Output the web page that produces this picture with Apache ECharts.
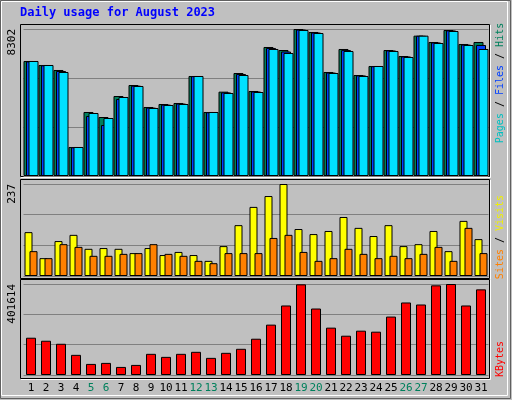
<!DOCTYPE html>
<html><head><meta charset="utf-8">
<script src="https://cdn.jsdelivr.net/npm/echarts@6/dist/echarts.min.js"></script>
<style>html,body{margin:0;padding:0;background:#c0c0c0}#c{width:512px;height:400px}</style>
</head><body><div id="c"></div>
<script>
const days = ['1','2','3','4','5','6','7','8','9','10','11','12','13','14','15','16','17','18','19','20','21','22','23','24','25','26','27','28','29','30','31'];
const weekend = ['5','6','12','13','19','20','26','27'];
const hits = [6495,6269,5987,1638,3615,3332,4518,5139,3897,4066,4123,5648,3615,4763,5817,4801,7286,7116,8302,8133,5874,7173,5704,6213,7116,6777,7926,7568,8246,7455,7568];
const files = [6470,6250,5930,1620,3389,2880,4349,5100,3860,4030,4090,5640,3600,4720,5760,4770,7230,7030,8270,8100,5840,7110,5680,6200,7090,6750,7920,7540,8220,7420,7399];
const pages = [6495,6269,5874,1638,3558,3276,4462,5083,3841,4010,4066,5648,3615,4688,5704,4744,7173,6947,8246,8076,5817,7060,5648,6213,7060,6721,7926,7512,8189,7399,7173];
const visits = [113,46,90,106,70,72,70,59,72,54,62,54,39,77,131,178,206,237,121,108,116,152,124,103,131,77,82,116,64,142,95];
const sites = [64,46,82,75,52,52,57,59,82,57,52,39,33,59,59,59,98,106,62,39,46,70,57,46,52,46,57,75,39,124,59];
const kbytes = [164500,151200,137800,88900,48900,53400,35600,44500,93400,80000,93400,102300,75600,97800,115600,160100,222300,306800,400100,293400,209000,173400,195600,191200,257900,320100,311200,395700,401614,306800,377900];

const font = 'DejaVu Sans Mono';
const panels = [[21,25,469,152],[21,180,469,99],[21,280,469,99]];
const grids = [
  {left:23.5,width:465,top:29,height:147},
  {left:23.5,width:465,top:184,height:92},
  {left:23.5,width:465,top:284,height:91}
];
function yAx(i,arr){
  const m = Math.max(...arr);
  return {gridIndex:i,type:'value',min:0,max:m,interval:m/3,
    axisLine:{show:false},axisTick:{show:false},
    splitLine:{lineStyle:{color:'#808080',width:1}},
    axisLabel:{rotate:90,fontFamily:font,fontSize:11,color:'#000',margin:6,align:'right',
      formatter:v=>Math.abs(v-m)<1e-6?String(m):''}};
}
function xAx(i,show){
  return {gridIndex:i,type:'category',data:days,axisLine:{show:false},axisTick:{show:false},
    axisLabel:show?{interval:0,fontFamily:font,fontSize:11,margin:8,
      color:(v)=>weekend.includes(v)?'#00805c':'#000'}:{show:false}};
}
const bs = {borderColor:'#000',borderWidth:1};
const lf = '10px '+font;
const graphics = [
  {type:'rect',shape:{x:0.5,y:0.5,width:510,height:398},style:{fill:'#c0c0c0',stroke:'#606060',lineWidth:1},z:-10},
  {type:'rect',shape:{x:1.5,y:1.5,width:506,height:394},style:{fill:'none',stroke:'#ffffff',lineWidth:1},z:-10},
  {type:'text',left:20,top:7,style:{text:'Daily usage for August 2023',fill:'#0000ff',font:'bold 12px '+font}},
  {type:'text',x:500,y:83,rotation:Math.PI/2,style:{text:'{p|Pages} / {f|Files} / {h|Hits}',align:'center',verticalAlign:'middle',font:lf,fill:'#000',
    rich:{p:{fill:'#00c0c0',font:lf},f:{fill:'#0040ff',font:lf},h:{fill:'#00805c',font:lf}}}},
  {type:'text',x:500,y:237,rotation:Math.PI/2,style:{text:'{s|Sites} / {v|Visits}',align:'center',verticalAlign:'middle',font:lf,fill:'#000',
    rich:{s:{fill:'#ff8000',font:lf},v:{fill:'#f0f000',font:lf}}}},
  {type:'text',x:500,y:359,rotation:Math.PI/2,style:{text:'KBytes',align:'center',verticalAlign:'middle',font:lf,fill:'#ff0000'}}
];
panels.forEach(p=>{
  graphics.push({type:'rect',shape:{x:p[0]-0.5,y:p[1]-0.5,width:p[2],height:p[3]},style:{fill:'#c0c0c0',stroke:'#000',lineWidth:1},z:-5});
  graphics.push({type:'polyline',shape:{points:[[p[0]+p[2]+0.5,p[1]],[p[0]+p[2]+0.5,p[1]+p[3]+0.5],[p[0],p[1]+p[3]+0.5]]},style:{stroke:'#fff',lineWidth:1},z:-5});
});
const chart = echarts.init(document.getElementById('c'),null,{renderer:'canvas'});
chart.setOption({
  animation:false,
  graphic:{elements:graphics},
  grid:grids,
  xAxis:[xAx(0,false),xAx(1,false),xAx(2,true)],
  yAxis:[yAx(0,hits),yAx(1,visits),yAx(2,kbytes)],
  series:[
    {type:'bar',name:'Hits',xAxisIndex:0,yAxisIndex:0,data:hits,barWidth:10,barGap:'-75%',itemStyle:{color:'#00805c',...bs}},
    {type:'bar',name:'Files',xAxisIndex:0,yAxisIndex:0,data:files,barWidth:10,barGap:'-75%',itemStyle:{color:'#0040ff',...bs}},
    {type:'bar',name:'Pages',xAxisIndex:0,yAxisIndex:0,data:pages,barWidth:10,barGap:'-75%',itemStyle:{color:'#00e0ff',...bs}},
    {type:'bar',name:'Visits',xAxisIndex:1,yAxisIndex:1,data:visits,barWidth:8,barGap:'-37.5%',itemStyle:{color:'#ffff00',...bs}},
    {type:'bar',name:'Sites',xAxisIndex:1,yAxisIndex:1,data:sites,barWidth:8,barGap:'-37.5%',itemStyle:{color:'#ff8000',...bs}},
    {type:'bar',name:'KBytes',xAxisIndex:2,yAxisIndex:2,data:kbytes,barWidth:10,itemStyle:{color:'#ff0000',...bs}}
  ]
});
</script></body></html>
